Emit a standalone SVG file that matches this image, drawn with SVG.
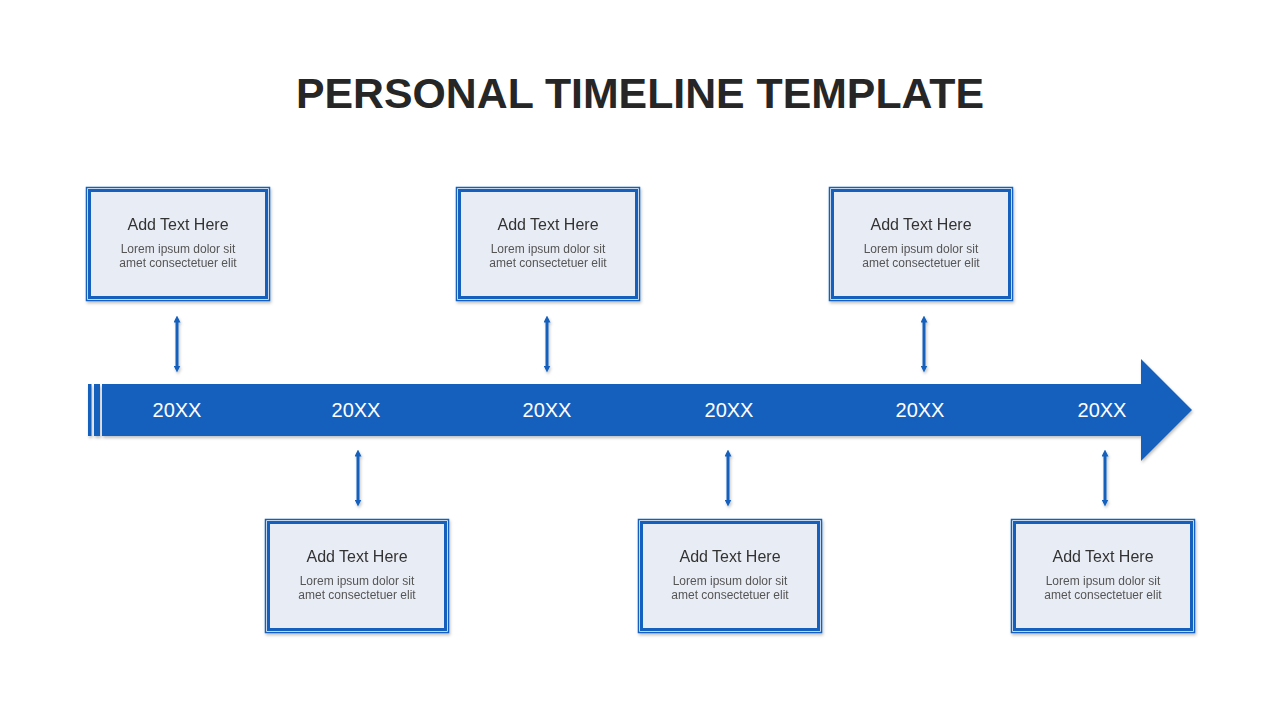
<svg xmlns="http://www.w3.org/2000/svg" width="1280" height="720" viewBox="0 0 1280 720">
<defs>
<filter id="sh" x="-10%" y="-10%" width="130%" height="140%">
<feDropShadow dx="1" dy="2" stdDeviation="1.5" flood-color="#000" flood-opacity="0.25"/>
</filter>
<marker id="ah" viewBox="0 0 6 6" refX="3" refY="3" markerWidth="7" markerHeight="7" orient="auto-start-reverse" markerUnits="userSpaceOnUse">
<path d="M0,0 L6,3 L0,6 Z" fill="#1560BD"/>
</marker>
</defs>
<style>
.outer{fill:#fff;stroke:#1560BD;stroke-width:1.5}
.inner{fill:#E8ECF4;stroke:#1560BD;stroke-width:3}
.h{font-family:"Liberation Sans",Arial,sans-serif;font-size:16px;fill:#333;text-anchor:middle}
.b{font-family:"Liberation Sans",Arial,sans-serif;font-size:12px;fill:#555;text-anchor:middle}
.yr{font-family:"Liberation Sans",Arial,sans-serif;font-size:20px;fill:#fff;text-anchor:middle}
.conn{stroke:#1560BD;stroke-width:3;fill:none}
</style>
<rect width="1280" height="720" fill="#fff"/>
<text x="640" y="108" font-family="'Liberation Sans',Arial,sans-serif" font-weight="bold" font-size="42.8" fill="#262626" text-anchor="middle">PERSONAL TIMELINE TEMPLATE</text>

<g id="timeline" filter="url(#sh)">
<rect x="88" y="384" width="3.5" height="52" fill="#1560BD"/>
<rect x="94" y="384" width="6" height="52" fill="#1560BD"/>
<path d="M102,384 L1141,384 L1141,359 L1192,410 L1141,461 L1141,436 L102,436 Z" fill="#1560BD"/>
</g>
<g id="years">
<text class="yr" x="177" y="417">20XX</text>
<text class="yr" x="356" y="417">20XX</text>
<text class="yr" x="547" y="417">20XX</text>
<text class="yr" x="729" y="417">20XX</text>
<text class="yr" x="920" y="417">20XX</text>
<text class="yr" x="1102" y="417">20XX</text>
</g>

<g id="connectors" filter="url(#sh)">
<line class="conn" x1="177" y1="319" x2="177" y2="369" marker-start="url(#ah)" marker-end="url(#ah)"/>
<line class="conn" x1="547" y1="319" x2="547" y2="369" marker-start="url(#ah)" marker-end="url(#ah)"/>
<line class="conn" x1="924" y1="319" x2="924" y2="369" marker-start="url(#ah)" marker-end="url(#ah)"/>
<line class="conn" x1="358" y1="453" x2="358" y2="503" marker-start="url(#ah)" marker-end="url(#ah)"/>
<line class="conn" x1="728" y1="453" x2="728" y2="503" marker-start="url(#ah)" marker-end="url(#ah)"/>
<line class="conn" x1="1105" y1="453" x2="1105" y2="503" marker-start="url(#ah)" marker-end="url(#ah)"/>
</g>

<g id="box1" filter="url(#sh)">
<rect class="outer" x="86.5" y="187.5" width="183" height="113"/>
<rect class="inner" x="89.5" y="190.5" width="177" height="107"/>
<text class="h" x="178" y="230">Add Text Here</text>
<text class="b" x="178" y="253">Lorem ipsum dolor sit</text>
<text class="b" x="178" y="267">amet consectetuer elit</text>
</g>
<g id="box2" filter="url(#sh)">
<rect class="outer" x="265.5" y="519.5" width="183" height="113"/>
<rect class="inner" x="268.5" y="522.5" width="177" height="107"/>
<text class="h" x="357" y="562">Add Text Here</text>
<text class="b" x="357" y="585">Lorem ipsum dolor sit</text>
<text class="b" x="357" y="599">amet consectetuer elit</text>
</g>
<g id="box3" filter="url(#sh)">
<rect class="outer" x="456.5" y="187.5" width="183" height="113"/>
<rect class="inner" x="459.5" y="190.5" width="177" height="107"/>
<text class="h" x="548" y="230">Add Text Here</text>
<text class="b" x="548" y="253">Lorem ipsum dolor sit</text>
<text class="b" x="548" y="267">amet consectetuer elit</text>
</g>
<g id="box4" filter="url(#sh)">
<rect class="outer" x="638.5" y="519.5" width="183" height="113"/>
<rect class="inner" x="641.5" y="522.5" width="177" height="107"/>
<text class="h" x="730" y="562">Add Text Here</text>
<text class="b" x="730" y="585">Lorem ipsum dolor sit</text>
<text class="b" x="730" y="599">amet consectetuer elit</text>
</g>
<g id="box5" filter="url(#sh)">
<rect class="outer" x="829.5" y="187.5" width="183" height="113"/>
<rect class="inner" x="832.5" y="190.5" width="177" height="107"/>
<text class="h" x="921" y="230">Add Text Here</text>
<text class="b" x="921" y="253">Lorem ipsum dolor sit</text>
<text class="b" x="921" y="267">amet consectetuer elit</text>
</g>
<g id="box6" filter="url(#sh)">
<rect class="outer" x="1011.5" y="519.5" width="183" height="113"/>
<rect class="inner" x="1014.5" y="522.5" width="177" height="107"/>
<text class="h" x="1103" y="562">Add Text Here</text>
<text class="b" x="1103" y="585">Lorem ipsum dolor sit</text>
<text class="b" x="1103" y="599">amet consectetuer elit</text>
</g>
</svg>
